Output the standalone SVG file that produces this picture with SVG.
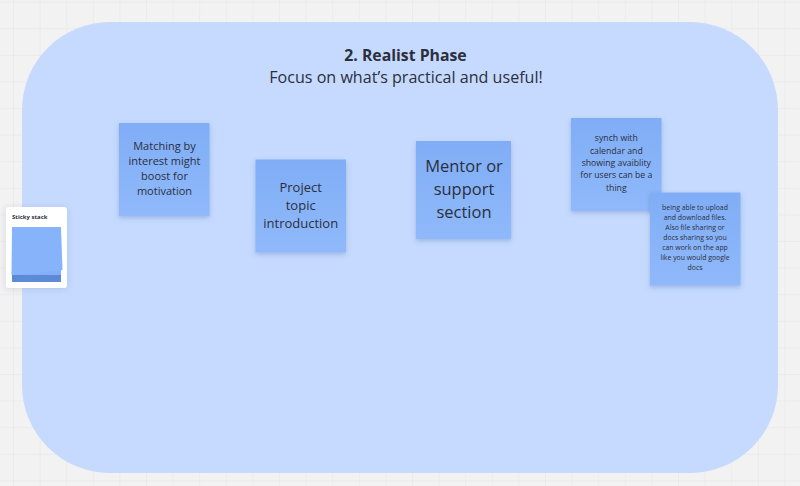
<svg xmlns="http://www.w3.org/2000/svg" width="800" height="486" viewBox="0 0 800 486">
<style>
.s{fill:url(#sg);filter:url(#sh)}
text{font-family:"Open Sans","Noto Sans",sans-serif;text-anchor:middle;fill:#2b2f3c}
</style>
<defs>
<linearGradient id="sg" x1="0" y1="0" x2="0" y2="1"><stop offset="0" stop-color="#80adf6"/><stop offset="1" stop-color="#8fb9fa"/></linearGradient>
<filter id="sh" x="-20%" y="-20%" width="140%" height="140%"><feDropShadow dx="0" dy="2" stdDeviation="2.500" flood-color="#3c5a96" flood-opacity="0.3"/></filter>
<filter id="ch" x="-20%" y="-20%" width="140%" height="140%"><feDropShadow dx="0" dy="1" stdDeviation="3" flood-color="#3c4664" flood-opacity="0.15"/></filter>
<pattern id="gp" x="13" y="1.600" width="26.600" height="26.600" patternUnits="userSpaceOnUse"><path d="M0 0V26.600M0 0H26.600" stroke="#e9e9e9" stroke-width="1.400" fill="none"/></pattern>
</defs>
<rect width="800" height="486" fill="#f2f2f2"/>
<rect id="grid" width="800" height="486" fill="url(#gp)"/>
<g id="phase">
<rect x="22" y="22" width="756" height="451" rx="88" fill="#c6daff"/>
<text x="405.500" y="61" font-size="15.800" font-weight="700" fill="#1e2029">2. Realist Phase</text>
<text x="406" y="83" font-size="16.100" fill="#1e2029">Focus on what’s practical and useful!</text>
</g>
<g id="stack">
<rect x="6" y="207" width="61" height="81" rx="3" fill="#fff" filter="url(#ch)"/>
<text x="29.800" y="219" font-size="6" font-weight="700" fill="#3a3d48">Sticky stack</text>
<rect x="12" y="227" width="49" height="55" fill="#82aff7"/>
<rect x="12" y="275" width="49" height="7" fill="#5c8ad6"/>
<path d="M11.500 275C30 274 50 272 62.500 270L61 227H12Z" fill="#86b3f9"/>
</g>
<g id="note1">
<rect class="s" x="119" y="123" width="90.500" height="93"/>
<text font-size="11"><tspan x="164.500" y="150">Matching by</tspan><tspan x="164.500" y="165">interest might</tspan><tspan x="164.500" y="180">boost for</tspan><tspan x="164.500" y="195">motivation</tspan></text>
</g>
<g id="note2">
<rect class="s" x="255.500" y="159.500" width="90.500" height="93"/>
<text font-size="13"><tspan x="300.700" y="192">Project</tspan><tspan x="300.700" y="210">topic</tspan><tspan x="300.700" y="228">introduction</tspan></text>
</g>
<g id="note3">
<rect class="s" x="416" y="141" width="95" height="98"/>
<text font-size="16.500"><tspan x="464" y="172">Mentor or</tspan><tspan x="464" y="195">support</tspan><tspan x="464" y="218">section</tspan></text>
</g>
<g id="note4">
<rect class="s" x="571" y="118" width="90.500" height="93"/>
<text font-size="8.700"><tspan x="616.300" y="141">synch with</tspan><tspan x="616.300" y="153.500">calendar and</tspan><tspan x="616.300" y="165.500">showing avaiblity</tspan><tspan x="616.300" y="178">for users can be a</tspan><tspan x="616.300" y="190.500">thing</tspan></text>
</g>
<g id="note5">
<rect class="s" x="650" y="192.500" width="90.500" height="93"/>
<text font-size="6.900"><tspan x="695" y="210">being able to upload</tspan><tspan x="695" y="220">and download files.</tspan><tspan x="695" y="230">Also file sharing or</tspan><tspan x="695" y="240">docs sharing so you</tspan><tspan x="695" y="250">can work on the app</tspan><tspan x="695" y="260">like you would google</tspan><tspan x="695" y="270">docs</tspan></text>
</g>
<g id="connectors"></g>
</svg>
